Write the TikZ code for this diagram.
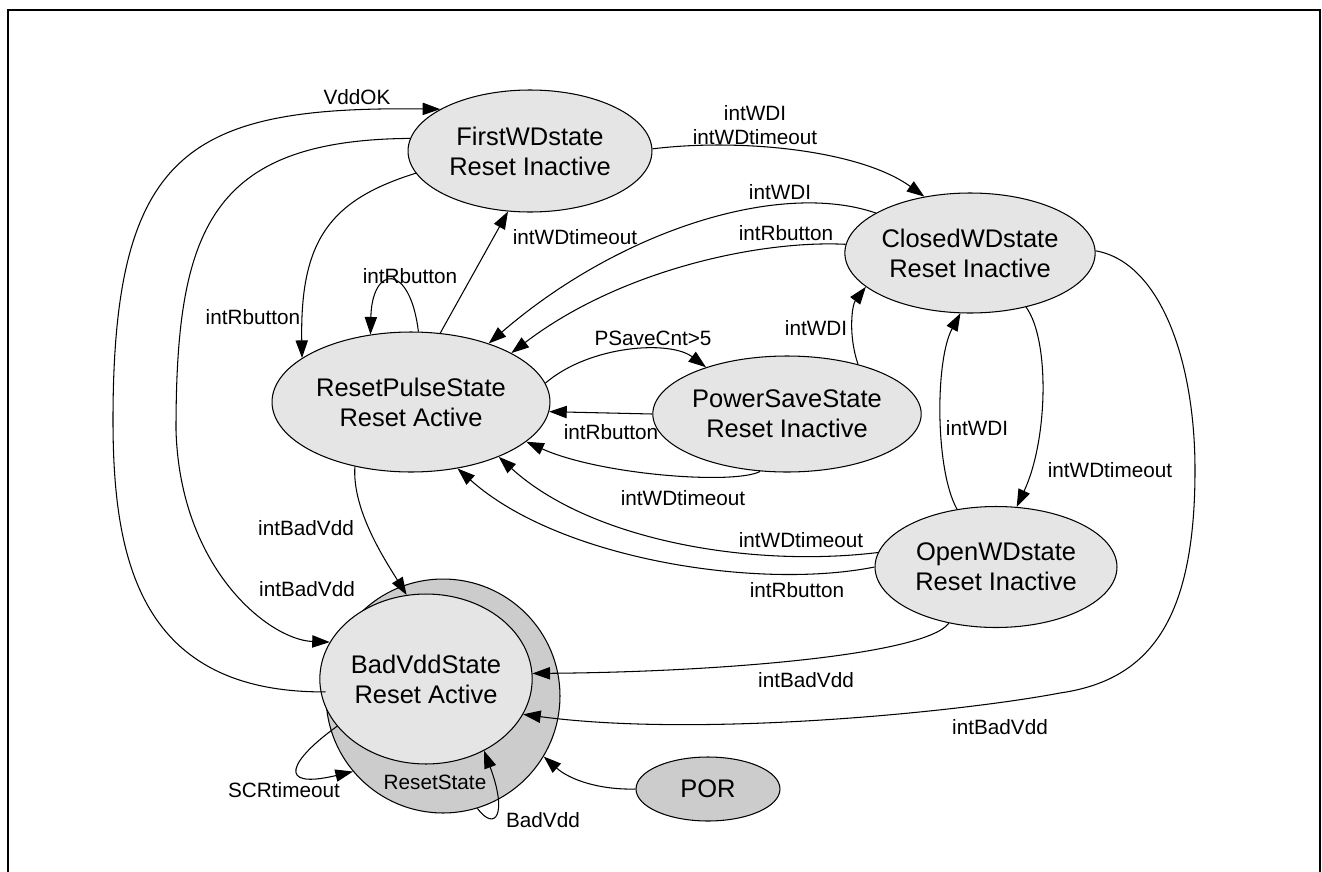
\documentclass[tikz,border=0pt]{standalone}
\usepackage{fontspec}
\setmainfont{Liberation Sans}
\usetikzlibrary{shapes.geometric,arrows.meta}
\definecolor{statefill}{gray}{0.9}
\definecolor{darkfill}{gray}{0.8}
\begin{document}
\begin{tikzpicture}[x=0.02cm,y=-0.02cm,line width=0.6pt,
    >={Triangle[length=10pt,width=7pt]},
    state/.style={ellipse,draw,fill=statefill,inner sep=0pt,align=center,
        font=\fontsize{14.5}{17}\selectfont},
    lbl/.style={inner sep=0pt,align=center,font=\fontsize{11.8}{13.6}\selectfont}]
            \useasboundingbox (0,0) rectangle (1322,872);
            \draw [line width=1.2pt] (8,872) -- (8,10) -- (1320,10) -- (1320,872);
            \node [state,minimum width=4.88cm,minimum height=2.44cm] (first) at (530,151) {FirstWDstate\\Reset Inactive};
            \node [state,minimum width=4.84cm,minimum height=2.4cm] (closed) at (970,253) {ClosedWDstate\\Reset Inactive};
            \node [state,minimum width=5.56cm,minimum height=2.8cm] (reset) at (411,402) {ResetPulseState\\Reset Active};
            \node [state,minimum width=4.84cm,minimum height=2.32cm] (psave) at (787,414) {PowerSaveState\\Reset Inactive};
            \node [state,minimum width=4.84cm,minimum height=2.42cm] (open) at (996,567) {OpenWDstate\\Reset Inactive};
            \node [state,fill=darkfill,minimum width=4.68cm,minimum height=4.68cm] (badout) at (443,696) {};
            \node [state,minimum width=3.48cm,minimum height=3.4cm] (badin) at (426,679) {BadVddState\\Reset Active};
            \node [state,fill=darkfill,minimum width=2.88cm,minimum height=1.28cm] (por) at (708,789) {POR};
            \node [lbl] (lrs) at (435,782) {ResetState};
            \draw [->] (badout.178) .. controls (140,693) and (113,560) .. (113,420)
                .. controls (113,150) and (190,106) .. (first.155);
            \draw [->] (first.174) .. controls (210,140) and (176,230) .. (176,430)
                .. controls (180,570) and (270,640) .. (badin.159);
            \draw [->] (first.191) .. controls (330,200) and (300,240) .. (reset.158);
            \draw [->] (reset.84) .. controls (410,262) and (372,265) .. (reset.121);
            \draw [->] (reset.67) -- (first.250);
            \draw [->] (first.1) .. controls (740,138) and (860,150) .. (closed.129);
            \draw [->] (closed.157) .. controls (780,180) and (620,230) .. (reset.37);
            \draw [->] (closed.176) .. controls (760,240) and (620,270) .. (reset.26);
            \draw [->] (reset.8) .. controls (590,345) and (670,340) .. (psave.150);
            \draw [->] (psave.180) -- (reset.356);
            \draw [->] (psave.35) .. controls (848,335) and (852,305) .. (closed.198);
            \draw [->] (psave.245) .. controls (735,485) and (600,475) .. (reset.341);
            \draw [->] (closed.316) .. controls (1050,340) and (1048,440) .. (open.71);
            \draw [->] (open.124) .. controls (935,470) and (935,360) .. (closed.261);
            \draw [->] (open.173) .. controls (750,568) and (590,540) .. (reset.328);
            \draw [->] (open.180) .. controls (760,590) and (560,560) .. (reset.305);
            \draw [->] (open.230) .. controls (925,655) and (720,672) .. (badin.3);
            \draw [->] (closed.1) .. controls (1160,262) and (1195,360) .. (1195,470)
                .. controls (1195,620) and (1150,680) .. (1060,693)
                .. controls (960,712) and (700,738) .. (badin.340);
            \draw [->] (reset.229) .. controls (352,510) and (385,560) .. (badin.103);
            \draw [->] (por.180) .. controls (600,790) and (570,780) .. (badout.329);
            \draw [->] (badin.208) .. controls (290,760) and (275,790) .. (badout.220);
            \draw [->] (badout.287) .. controls (495,832) and (508,815) .. (badin.309);
            \node [lbl] (lvddok) at (357,97) {VddOK};
            \node [lbl] (lwd1) at (755,125) {intWDI\\intWDtimeout};
            \node [lbl] (lrb1) at (253,317) {intRbutton};
            \node [lbl] (lrbloop) at (410,276) {intRbutton};
            \node [lbl] (lwdto1) at (575,237) {intWDtimeout};
            \node [lbl] (lwdi1) at (780,192) {intWDI};
            \node [lbl] (lrb2) at (786,233) {intRbutton};
            \node [lbl] (lpsave) at (653,338) {PSaveCnt>5};
            \node [lbl] (lrb3) at (611,432) {intRbutton};
            \node [lbl] (lwdi2) at (816,328) {intWDI};
            \node [lbl] (lwdto2) at (683,498) {intWDtimeout};
            \node [lbl] (lwdto3) at (1110,470) {intWDtimeout};
            \node [lbl] (lwdi3) at (977,428) {intWDI};
            \node [lbl] (lwdto4) at (801,540) {intWDtimeout};
            \node [lbl] (lrb4) at (797,590) {intRbutton};
            \node [lbl] (lbad1) at (306,528) {intBadVdd};
            \node [lbl] (lbad2) at (307,589) {intBadVdd};
            \node [lbl] (lbad3) at (806,680) {intBadVdd};
            \node [lbl] (lbad4) at (1000,727) {intBadVdd};
            \node [lbl] (lscr) at (284,790) {SCRtimeout};
            \node [lbl] (lbadvdd) at (543,820) {BadVdd};
\end{tikzpicture}
\end{document}
